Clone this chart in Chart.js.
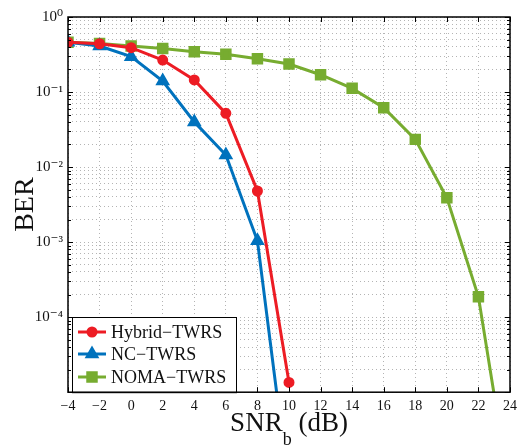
<!DOCTYPE HTML>
<html>
<head>
  <script src="https://cdn.jsdelivr.net/npm/chart.js"></script>
  <style>
    body { margin: 0; background: #fff; }
    #wrap { width: 519px; height: 445px; }
  </style>
</head>
<body>
  <div id="wrap"><canvas id="berChart"></canvas></div>

  <script>
    // SNR_b values (dB) and BER curves
    var snrHybrid = [-4, -2, 0, 2, 4, 6, 8, 10];
    var berHybrid = [0.46, 0.44, 0.39, 0.267, 0.145, 0.052, 0.0048, 1.35e-5];

    var snrNC = [-4, -2, 0, 2, 4, 6, 8, 10];
    var berNC = [0.46, 0.41, 0.296, 0.14, 0.04, 0.0145, 0.00104, 5e-7];

    var snrNOMA = [-4, -2, 0, 2, 4, 6, 8, 10, 12, 14, 16, 18, 20, 22, 24];
    var berNOMA = [0.46, 0.445, 0.41, 0.38, 0.345, 0.318, 0.278, 0.236, 0.17, 0.112, 0.0618, 0.0234, 0.0039, 1.87e-4, 4.5e-7];

    var seriesNames = ['Hybrid\u2212TWRS', 'NC\u2212TWRS', 'NOMA\u2212TWRS'];
    var xTicks = [-4, -2, 0, 2, 4, 6, 8, 10, 12, 14, 16, 18, 20, 22, 24];
    var yDecades = [-5, -4, -3, -2, -1, 0];

    var RED = 'rgb(237,28,36)';
    var BLUE = 'rgb(0,114,189)';
    var GREEN = 'rgb(119,172,48)';
    var SERIF = '"Liberation Serif", "DejaVu Serif", serif';

    function pts(xs, ys) {
      return xs.map(function (x, i) { return { x: x, y: ys[i] }; });
    }

    var sup = { '0': '\u2070', '1': '\u00b9', '2': '\u00b2', '3': '\u00b3', '4': '\u2074', '5': '\u2075', '-': '\u207b' };
    function powLabel(e) {
      return '10' + String(e).split('').map(function (c) { return sup[c]; }).join('');
    }

    // all y grid values: 1..9 x 10^n
    var yGrid = [];
    yDecades.forEach(function (e) {
      if (e === 0) { yGrid.push(1); return; }
      for (var k = 1; k <= 9; k++) yGrid.push(k * Math.pow(10, e));
    });

    // draws the box, inward tick marks, the x title and the legend
    var decor = {
      id: 'decor',
      afterDatasetsDraw: function (chart) {
        var ctx = chart.ctx, a = chart.chartArea;
        var xs = chart.scales.x, ys = chart.scales.y;
        ctx.save();
        ctx.strokeStyle = '#000';
        ctx.lineWidth = 1;
        ctx.beginPath();
        xTicks.forEach(function (v) {
          var px = Math.round(xs.getPixelForValue(v)) + 0.5;
          ctx.moveTo(px, a.bottom); ctx.lineTo(px, a.bottom - 5);
          ctx.moveTo(px, a.top); ctx.lineTo(px, a.top + 5);
        });
        yGrid.forEach(function (v) {
          var py = Math.round(ys.getPixelForValue(v)) + 0.5;
          var major = Math.abs(Math.log10(v) - Math.round(Math.log10(v))) < 1e-9;
          var len = major ? 5 : 3;
          ctx.moveTo(a.left, py); ctx.lineTo(a.left + len, py);
          ctx.moveTo(a.right, py); ctx.lineTo(a.right - len, py);
        });
        ctx.stroke();

        // legend
        var lx = a.left + 4, ly = 317, lw = 164, lh = a.bottom - ly;
        ctx.fillStyle = '#fff';
        ctx.fillRect(lx, ly, lw, lh);
        ctx.lineWidth = 1;
        ctx.strokeRect(lx + 0.5, ly + 0.5, lw, lh);
        var rows = [332, 354, 377];
        chart.data.datasets.forEach(function (ds, i) {
          var y = rows[i];
          ctx.strokeStyle = ds.borderColor;
          ctx.lineWidth = 3;
          ctx.beginPath();
          ctx.moveTo(lx + 6, y); ctx.lineTo(lx + 34, y);
          ctx.stroke();
          Chart.helpers.drawPoint(ctx, {
            pointStyle: ds.pointStyle, radius: ds.pointRadius, borderWidth: 1
          }, lx + 20, y);
          ctx.fillStyle = ds.pointBackgroundColor;
          ctx.fill();
          ctx.fillStyle = '#111';
          ctx.font = '18px ' + SERIF;
          ctx.textBaseline = 'middle';
          ctx.textAlign = 'left';
          ctx.fillText(ds.label, lx + 39, y + 1);
        });

        // plot box
        ctx.strokeStyle = '#000';
        ctx.lineWidth = 1.5;
        ctx.strokeRect(a.left, a.top, a.right - a.left, a.bottom - a.top);

        // x title with subscript
        ctx.fillStyle = '#111';
        ctx.textBaseline = 'alphabetic';
        ctx.textAlign = 'left';
        var big = '27px ' + SERIF, small = '18px ' + SERIF;
        ctx.font = big;
        var w1 = ctx.measureText('SNR').width;
        var w3 = ctx.measureText(' (dB)').width;
        ctx.font = small;
        var w2 = ctx.measureText('b').width;
        var x0 = (a.left + a.right) / 2 - (w1 + w2 + w3) / 2;
        var base = 431;
        ctx.font = big;
        ctx.fillText('SNR', x0, base);
        ctx.font = small;
        ctx.fillText('b', x0 + w1, base + 14);
        ctx.font = big;
        ctx.fillText(' (dB)', x0 + w1 + w2, base);
        ctx.restore();
      }
    };

    function dataset(label, xs, ys, color, style, r) {
      return {
        label: label,
        data: pts(xs, ys),
        borderColor: color,
        backgroundColor: color,
        pointBackgroundColor: color,
        pointBorderColor: color,
        borderWidth: 3,
        pointStyle: style,
        pointRadius: r,
        pointHoverRadius: r,
        tension: 0
      };
    }

    var ctx = document.getElementById('berChart').getContext('2d');
    var chart = new Chart(ctx, {
      type: 'line',
      data: {
        datasets: [
          dataset(seriesNames[0], snrHybrid, berHybrid, RED, 'circle', 4),
          dataset(seriesNames[1], snrNC, berNC, BLUE, 'triangle', 5.5),
          dataset(seriesNames[2], snrNOMA, berNOMA, GREEN, 'rect', 6)
        ]
      },
      options: {
        responsive: true,
        maintainAspectRatio: false,
        animation: false,
        layout: { padding: { left: 0, right: 0, top: 17, bottom: 30 } },
        plugins: {
          legend: { display: false },
          tooltip: { enabled: false }
        },
        scales: {
          x: {
            type: 'linear',
            min: -4,
            max: 24,
            afterBuildTicks: function (scale) {
              scale.ticks = xTicks.map(function (v) { return { value: v }; });
            },
            ticks: {
              autoSkip: false,
              maxRotation: 0,
              padding: 0,
              color: '#111',
              font: { family: SERIF, size: 14 },
              callback: function (v) { return String(v).replace('-', '\u2212'); }
            },
            grid: { color: '#b4b4b4', lineWidth: 1, drawTicks: true, tickLength: 6, tickColor: 'rgba(0,0,0,0)' },
            border: { display: false, dash: [1, 3] }
          },
          y: {
            type: 'logarithmic',
            min: 1e-5,
            max: 1,
            afterBuildTicks: function (scale) {
              scale.ticks = yGrid.map(function (v) { return { value: v }; });
            },
            afterFit: function (scale) { scale.width = 68; },
            ticks: {
              autoSkip: false,
              padding: 5,
              color: '#111',
              font: { family: SERIF, size: 15 },
              callback: function (v) {
                var e = Math.log10(v);
                if (Math.abs(e - Math.round(e)) > 1e-9) return '';
                e = Math.round(e);
                if (e === -5) return '';
                return powLabel(e);
              }
            },
            grid: { color: '#b4b4b4', lineWidth: 1, drawTicks: false },
            border: { display: false, dash: [1, 3] },
            title: {
              display: true,
              text: 'BER',
              color: '#111',
              font: { family: SERIF, size: 28 },
              padding: { top: 9, bottom: 0 }
            }
          }
        }
      },
      plugins: [decor]
    });
  </script>
</body>
</html>
